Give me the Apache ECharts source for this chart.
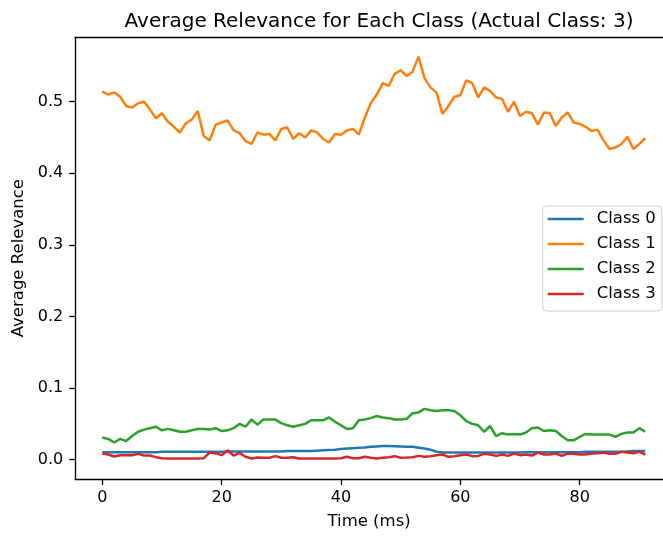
<!DOCTYPE html>
<html>
<head>
<meta charset="utf-8">
<script src="https://cdn.jsdelivr.net/npm/echarts@6/dist/echarts.min.js"></script>
<style>html,body{margin:0;padding:0;background:#fff}#c{width:663px;height:536px}</style>
</head>
<body>
<div id="c"></div>
<script>
const seriesNames = ['Class 0', 'Class 1', 'Class 2', 'Class 3'];
const xTicks = [0, 20, 40, 60, 80];
const yTicks = [0.0, 0.1, 0.2, 0.3, 0.4, 0.5];

const classZero = [
0.0105,0.0105,0.0105,0.0105,0.0105,0.0105,0.0105,0.0105,0.0105,0.0105,
0.011,0.011,0.011,0.011,0.011,0.011,0.011,0.011,0.011,0.011,
0.011,0.0115,0.0115,0.0115,0.0115,0.0115,0.0115,0.0115,0.0115,0.0115,
0.0115,0.012,0.012,0.012,0.012,0.012,0.0125,0.013,0.0135,0.014,
0.015,0.0155,0.016,0.0165,0.017,0.018,0.0185,0.019,0.019,0.0188,
0.0185,0.018,0.018,0.0168,0.0155,0.014,0.011,0.010,0.010,0.010,
0.010,0.010,0.010,0.010,0.010,0.010,0.010,0.010,0.010,0.010,
0.010,0.0105,0.0105,0.0105,0.0105,0.0105,0.0105,0.0105,0.0105,0.0105,
0.0105,0.011,0.011,0.011,0.011,0.011,0.011,0.011,0.0115,0.012,
0.012,0.012];

const classOne = [
0.514,0.510,0.513,0.507,0.494,0.492,0.498,0.500,0.489,0.477,
0.484,0.472,0.465,0.457,0.470,0.475,0.487,0.452,0.446,0.468,
0.471,0.474,0.460,0.456,0.445,0.441,0.457,0.454,0.455,0.446,
0.462,0.464,0.448,0.456,0.450,0.460,0.457,0.448,0.443,0.455,
0.454,0.460,0.462,0.454,0.478,0.498,0.510,0.526,0.522,0.539,
0.544,0.536,0.542,0.563,0.533,0.520,0.513,0.483,0.494,0.507,
0.509,0.530,0.526,0.506,0.520,0.515,0.506,0.504,0.486,0.500,
0.480,0.486,0.484,0.468,0.485,0.484,0.466,0.478,0.485,0.471,
0.469,0.465,0.459,0.461,0.446,0.434,0.436,0.441,0.451,0.434,
0.441,0.449];

const classTwo = [
0.031,0.029,0.024,0.029,0.026,0.033,0.039,0.042,0.044,0.046,
0.041,0.043,0.041,0.039,0.039,0.041,0.043,0.043,0.042,0.044,
0.040,0.041,0.044,0.050,0.046,0.056,0.049,0.056,0.056,0.056,
0.051,0.048,0.046,0.048,0.050,0.055,0.055,0.055,0.059,0.053,
0.048,0.043,0.044,0.055,0.056,0.058,0.061,0.059,0.058,0.056,
0.056,0.057,0.065,0.066,0.071,0.069,0.068,0.069,0.069,0.068,
0.062,0.054,0.050,0.048,0.039,0.047,0.033,0.037,0.035,0.036,
0.035,0.038,0.044,0.045,0.040,0.041,0.040,0.033,0.027,0.027,
0.032,0.036,0.035,0.035,0.035,0.035,0.032,0.036,0.038,0.038,
0.044,0.039];

const classThree = [
0.0086,0.0072,0.0044,0.0063,0.0063,0.0063,0.0081,0.0058,0.0058,0.0035,
0.0021,0.0016,0.0016,0.0016,0.0016,0.0016,0.0016,0.0021,0.0100,0.0091,
0.0063,0.0128,0.0058,0.0095,0.0040,0.0016,0.0030,0.0026,0.0026,0.0049,
0.0026,0.0026,0.0035,0.0016,0.0016,0.0016,0.0016,0.0016,0.0016,0.0016,
0.0021,0.0040,0.0021,0.0021,0.0040,0.0026,0.0016,0.0026,0.0035,0.0049,
0.0026,0.0030,0.0035,0.0053,0.0040,0.0049,0.0063,0.0072,0.0040,0.0049,
0.0063,0.0072,0.0049,0.0053,0.0081,0.0072,0.0053,0.0072,0.0053,0.0086,
0.0063,0.0072,0.0058,0.0100,0.0072,0.0072,0.0086,0.0053,0.0086,0.0081,
0.0072,0.0072,0.0086,0.0091,0.0100,0.0081,0.0081,0.0109,0.0100,0.0091,
0.0109,0.0072];

const colors = ['#1f77b4', '#ff7f0e', '#2ca02c', '#d62728'];
const allSeries = [classZero, classOne, classTwo, classThree];

function pairs(arr) { return arr.map((v, i) => [i, v]); }

const chart = echarts.init(document.getElementById('c'), null, {renderer: 'canvas'});
const font = 'DejaVu Sans';
chart.setOption({
  animation: false,
  backgroundColor: '#fff',
  title: {
    text: 'Average Relevance for Each Class (Actual Class: 3)',
    left: 374, top: 7, textAlign: 'center',
    textStyle: {fontFamily: font, fontSize: 20, fontWeight: 'normal', color: '#000'}
  },
  grid: {left: 75.15, top: 37.3, width: 587.85, height: 441.7, show: false,
    containLabel: false, outerBoundsMode: 'none'},
  legend: {
    orient: 'vertical', left: 542.7, top: 206,
    data: seriesNames.map(n => ({name: n, icon: 'rect'})),
    itemWidth: 36, itemHeight: 2.5, itemGap: 7,
    padding: [4, 6, 8, 5],
    backgroundColor: 'rgba(255,255,255,0.8)', borderColor: '#d0d0d0', borderWidth: 1, borderRadius: 4,
    textStyle: {fontFamily: font, fontSize: 16.5, color: '#000', padding: [0, 0, 0, 8], lineHeight: 18}
  },
  xAxis: [{
    type: 'value', min: -4.55, max: 93.97,
    name: 'Time (ms)', nameLocation: 'middle', nameGap: 34,
    nameTextStyle: {fontFamily: font, fontSize: 16.5, color: '#000'},
    axisLine: {show: true, onZero: false, lineStyle: {color: '#000', width: 1.3}},
    axisTick: {show: true, length: 6, lineStyle: {color: '#000', width: 1.3}, customValues: xTicks},
    axisLabel: {fontFamily: font, fontSize: 16, color: '#000', margin: 11, customValues: xTicks},
    splitLine: {show: false}
  }, {
    type: 'value', position: 'top', min: -4.55, max: 93.97,
    axisLine: {show: true, onZero: false, lineStyle: {color: '#000', width: 1.3}},
    axisTick: {show: false}, axisLabel: {show: false}, splitLine: {show: false}
  }],
  yAxis: {
    type: 'value', min: -0.027, max: 0.590,
    name: 'Average Relevance', nameLocation: 'middle', nameGap: 46, nameRotate: 90,
    nameTextStyle: {fontFamily: font, fontSize: 16.5, color: '#000'},
    axisLine: {show: true, onZero: false, lineStyle: {color: '#000', width: 1.3}},
    axisTick: {show: true, length: 6, lineStyle: {color: '#000', width: 1.3}, customValues: yTicks},
    axisLabel: {fontFamily: font, fontSize: 16, color: '#000', margin: 12, customValues: yTicks,
      formatter: v => v.toFixed(1)},
    splitLine: {show: false}
  },
  series: allSeries.map((arr, k) => ({
    name: seriesNames[k], type: 'line', data: pairs(arr), xAxisIndex: 0,
    symbol: 'none', showSymbol: false,
    lineStyle: {color: colors[k], width: 2.5}, itemStyle: {color: colors[k]},
    z: 2 + k
  }))
});
</script>
</body>
</html>
